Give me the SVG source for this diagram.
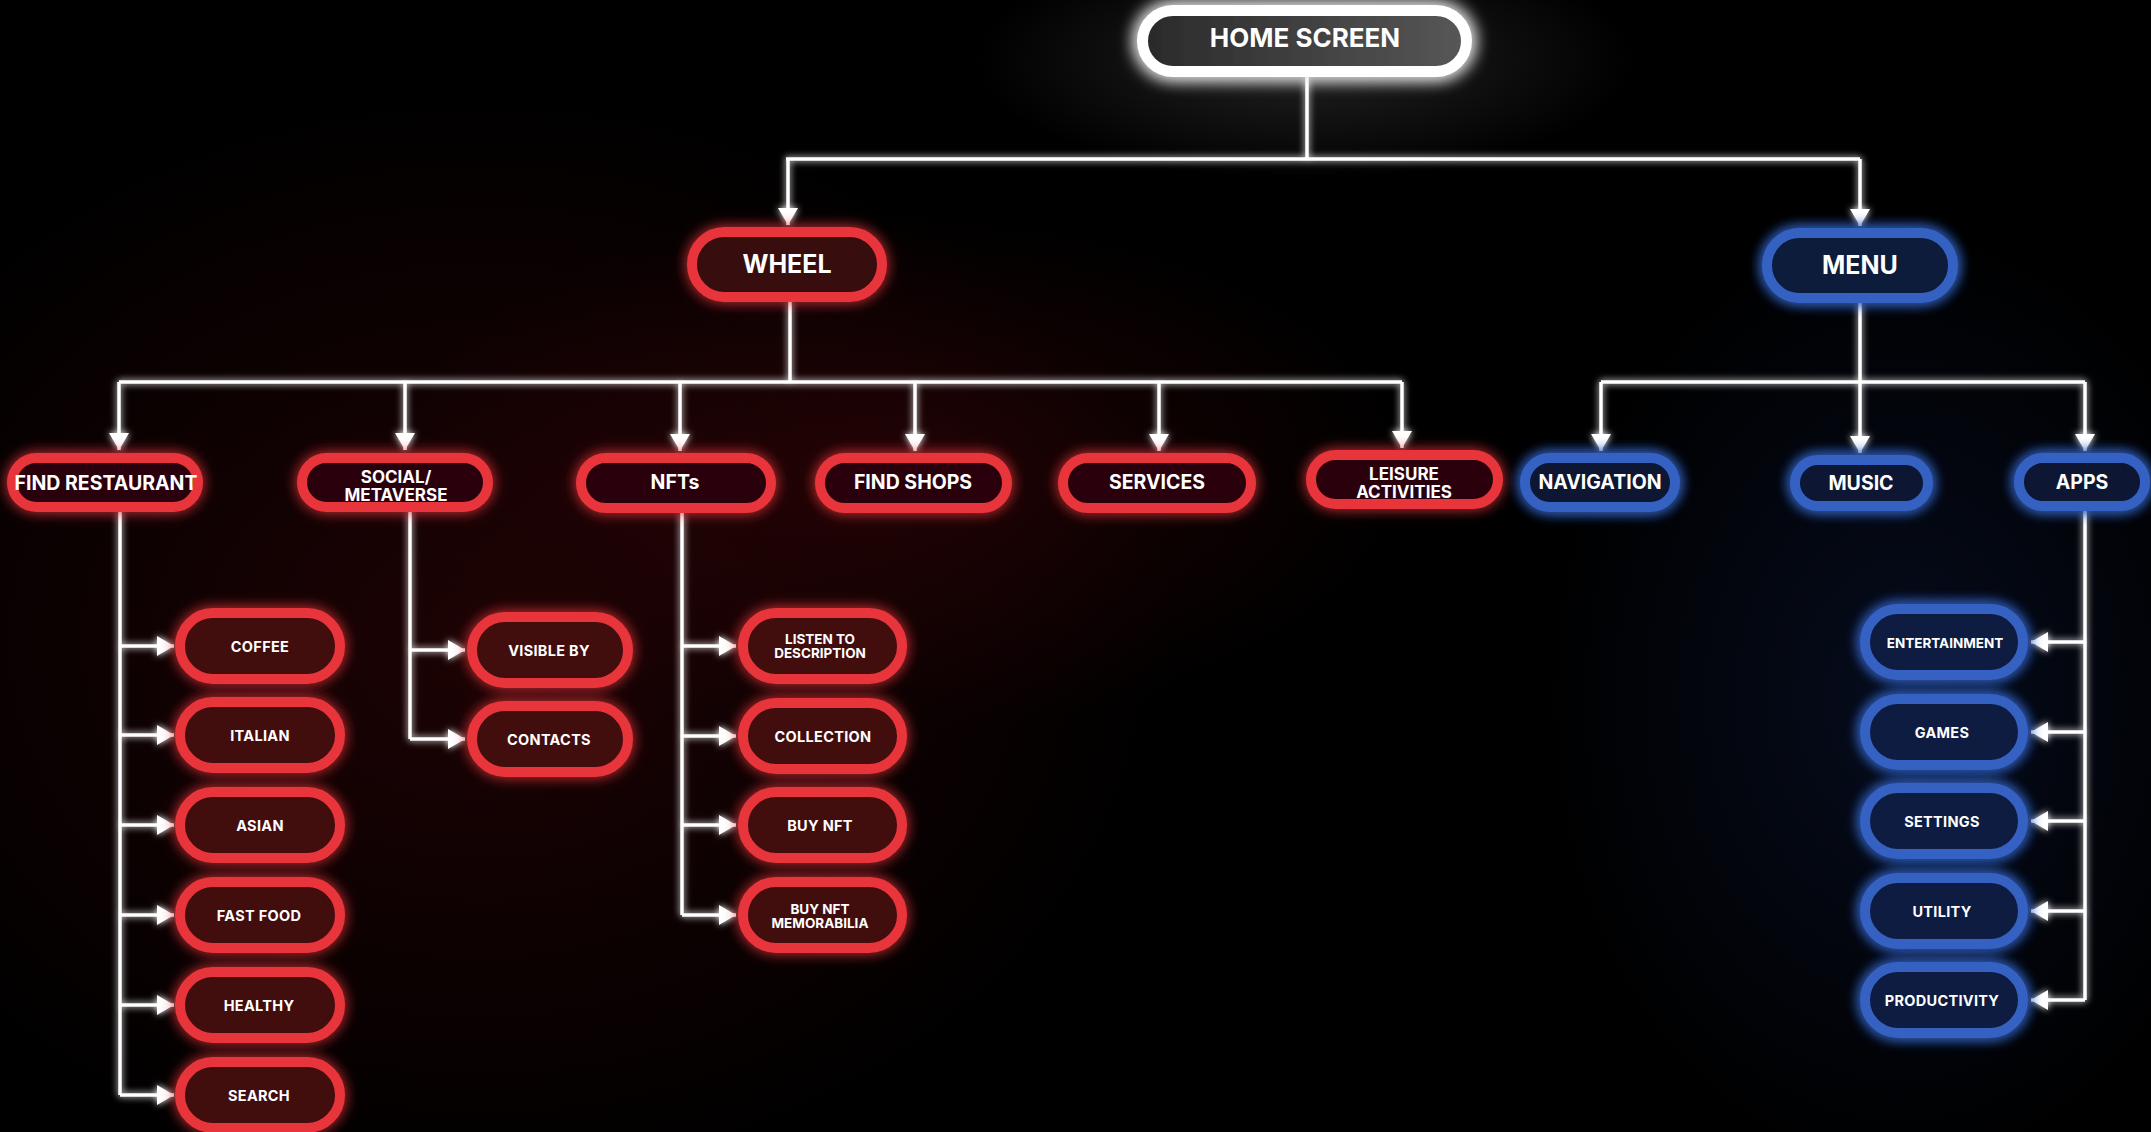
<svg xmlns="http://www.w3.org/2000/svg" width="2151" height="1132" viewBox="0 0 2151 1132">
  <defs>
    <style>
      .txt { font-family: Inter, "Open Sans", "Liberation Sans", sans-serif; font-weight: 700; fill: #ffffff; text-anchor: middle; }
      .t-home { font-size: 26px; }
      .t-top { font-size: 25px; }
      .t-l2 { font-size: 19.5px; }
      .t-l2b { font-size: 17px; }
      .t-leaf { font-size: 14.5px; letter-spacing: 0.3px; }
      .t-leafb { font-size: 13.5px; }
      .home { fill: url(#homeFill); stroke: #ffffff; stroke-width: 11; }
      .red-top { fill: #38070a; stroke: #e8353b; stroke-width: 10; }
      .red-l2 { fill: #2a0507; stroke: #e8353b; stroke-width: 10; }
      .red-leaf { fill: #420a0e; stroke: #e8353b; stroke-width: 10; }
      .blue-top { fill: #0d1a3a; stroke: #3462c2; stroke-width: 10; }
      .blue-l2 { fill: #0b1633; stroke: #3462c2; stroke-width: 10; }
      .blue-leaf { fill: #0e1c40; stroke: #3462c2; stroke-width: 10; }
      .wire { fill: none; stroke: #ffffff; stroke-width: 3.5; }
      .arrow { fill: none; stroke: #ffffff; stroke-width: 3.5; marker-end: url(#head); }
    </style>
    <linearGradient id="homeFill" x1="0" y1="0" x2="1" y2="0">
      <stop offset="0" stop-color="#2a2a2a"/>
      <stop offset="1" stop-color="#575757"/>
    </linearGradient>
    <radialGradient id="hazeRed" cx="0.5" cy="0.5" r="0.5">
      <stop offset="0" stop-color="#3a0508" stop-opacity="0.5"/>
      <stop offset="1" stop-color="#3a0508" stop-opacity="0"/>
    </radialGradient>
    <radialGradient id="hazeBlue" cx="0.5" cy="0.5" r="0.5">
      <stop offset="0" stop-color="#0a1430" stop-opacity="0.6"/>
      <stop offset="1" stop-color="#0a1430" stop-opacity="0"/>
    </radialGradient>
    <radialGradient id="hazeWhite" cx="0.5" cy="0.5" r="0.5">
      <stop offset="0" stop-color="#3a3a3a" stop-opacity="0.6"/>
      <stop offset="1" stop-color="#3a3a3a" stop-opacity="0"/>
    </radialGradient>
    <filter id="glowRed" x="-30%" y="-60%" width="160%" height="220%">
      <feGaussianBlur in="SourceGraphic" stdDeviation="7" result="b"/>
      <feMerge><feMergeNode in="b"/><feMergeNode in="SourceGraphic"/></feMerge>
    </filter>
    <filter id="glowBlue" x="-30%" y="-60%" width="160%" height="220%">
      <feGaussianBlur in="SourceGraphic" stdDeviation="7" result="b"/>
      <feMerge><feMergeNode in="b"/><feMergeNode in="b"/><feMergeNode in="SourceGraphic"/></feMerge>
    </filter>
    <filter id="glowWhite" x="-20%" y="-60%" width="140%" height="220%">
      <feGaussianBlur in="SourceGraphic" stdDeviation="9" result="b"/>
      <feMerge><feMergeNode in="b"/><feMergeNode in="b"/><feMergeNode in="SourceGraphic"/></feMerge>
    </filter>
    <filter id="glowWire" x="-5%" y="-5%" width="110%" height="110%">
      <feGaussianBlur in="SourceGraphic" stdDeviation="3.5" result="b"/>
      <feMerge><feMergeNode in="b"/><feMergeNode in="SourceGraphic"/></feMerge>
    </filter>
    <marker id="head" markerUnits="userSpaceOnUse" markerWidth="20" markerHeight="22" refX="17" refY="11" orient="auto">
      <path d="M0,1 L17,11 L0,21 Z" fill="#ffffff"/>
    </marker>
  </defs>

  <!-- backdrop -->
  <rect x="0" y="0" width="2151" height="1132" fill="#000000"/>
  <ellipse cx="480" cy="640" rx="700" ry="560" fill="url(#hazeRed)"/>
  <ellipse cx="900" cy="470" rx="520" ry="260" fill="url(#hazeRed)"/>
  <ellipse cx="1900" cy="700" rx="360" ry="480" fill="url(#hazeBlue)"/>
  <ellipse cx="1305" cy="60" rx="330" ry="120" fill="url(#hazeWhite)"/>

  <!-- connectors -->
  <g id="connectors" filter="url(#glowWire)">
    <path class="wire" d="M1307,77 V159 M786,159 H1860 M790,302 V382 M119,382 H1402 M1860,303 V382 M1601,382 H2085"/>
    <path class="arrow" d="M788,159 V225"/>
    <path class="arrow" d="M1860,159 V226"/>
    <path class="arrow" d="M119,382 V450"/>
    <path class="arrow" d="M405,382 V450"/>
    <path class="arrow" d="M680,382 V451"/>
    <path class="arrow" d="M915,382 V451"/>
    <path class="arrow" d="M1159,382 V451"/>
    <path class="arrow" d="M1402,382 V448"/>
    <path class="arrow" d="M1601,382 V451"/>
    <path class="arrow" d="M1860,382 V453"/>
    <path class="arrow" d="M2085,382 V451"/>
    <!-- find restaurant branch -->
    <path class="wire" d="M120,512 V1095"/>
    <path class="arrow" d="M120,646 H174"/>
    <path class="arrow" d="M120,735 H174"/>
    <path class="arrow" d="M120,825 H174"/>
    <path class="arrow" d="M120,915 H174"/>
    <path class="arrow" d="M120,1005 H174"/>
    <path class="arrow" d="M120,1095 H174"/>
    <!-- social branch -->
    <path class="wire" d="M410,512 V739"/>
    <path class="arrow" d="M410,650 H465"/>
    <path class="arrow" d="M410,739 H465"/>
    <!-- nft branch -->
    <path class="wire" d="M682,513 V915"/>
    <path class="arrow" d="M682,646 H736"/>
    <path class="arrow" d="M682,736 H736"/>
    <path class="arrow" d="M682,825 H736"/>
    <path class="arrow" d="M682,915 H736"/>
    <!-- apps branch -->
    <path class="wire" d="M2085,510 V1000"/>
    <path class="arrow" d="M2085,642 H2031"/>
    <path class="arrow" d="M2085,732 H2031"/>
    <path class="arrow" d="M2085,821 H2031"/>
    <path class="arrow" d="M2085,911 H2031"/>
    <path class="arrow" d="M2085,1000 H2031"/>
  </g>

  <!-- root -->
  <g id="home-screen">
    <rect class="home" x="1142.5" y="10.5" width="324" height="61" rx="30.5" filter="url(#glowWhite)"/>
    <text class="txt t-home" x="1305" y="47">HOME SCREEN</text>
  </g>

  <!-- main branches -->
  <g id="wheel">
    <rect class="red-top" x="692" y="232" width="190" height="65" rx="32.5" filter="url(#glowRed)"/>
    <text class="txt t-top" x="787" y="273">WHEEL</text>
  </g>
  <g id="menu">
    <rect class="blue-top" x="1767" y="233" width="186" height="65" rx="32.5" filter="url(#glowBlue)"/>
    <text class="txt t-top" x="1860" y="274">MENU</text>
  </g>

  <!-- wheel categories -->
  <g id="find-restaurant">
    <rect class="red-l2" x="12" y="458" width="186" height="49" rx="24.5" filter="url(#glowRed)"/>
    <text class="txt t-l2" x="106" y="490">FIND RESTAURANT</text>
  </g>
  <g id="social-metaverse">
    <rect class="red-l2" x="302" y="458" width="186" height="49" rx="24.5" filter="url(#glowRed)"/>
    <text class="txt t-l2b" x="396" y="483">SOCIAL/</text>
    <text class="txt t-l2b" x="396" y="501">METAVERSE</text>
  </g>
  <g id="nfts">
    <rect class="red-l2" x="581" y="458" width="190" height="50" rx="25" filter="url(#glowRed)"/>
    <text class="txt t-l2" x="675" y="489">NFTs</text>
  </g>
  <g id="find-shops">
    <rect class="red-l2" x="820" y="458" width="187" height="50" rx="25" filter="url(#glowRed)"/>
    <text class="txt t-l2" x="913" y="489">FIND SHOPS</text>
  </g>
  <g id="services">
    <rect class="red-l2" x="1063" y="458" width="188" height="50" rx="25" filter="url(#glowRed)"/>
    <text class="txt t-l2" x="1157" y="489">SERVICES</text>
  </g>
  <g id="leisure-activities">
    <rect class="red-l2" x="1311" y="455" width="187" height="49" rx="24.5" filter="url(#glowRed)"/>
    <text class="txt t-l2b" x="1404" y="480">LEISURE</text>
    <text class="txt t-l2b" x="1404" y="498">ACTIVITIES</text>
  </g>

  <!-- menu categories -->
  <g id="navigation">
    <rect class="blue-l2" x="1525" y="458" width="150" height="49" rx="24.5" filter="url(#glowBlue)"/>
    <text class="txt t-l2" x="1600" y="489">NAVIGATION</text>
  </g>
  <g id="music">
    <rect class="blue-l2" x="1795" y="460" width="133" height="46" rx="23" filter="url(#glowBlue)"/>
    <text class="txt t-l2" x="1861" y="490">MUSIC</text>
  </g>
  <g id="apps">
    <rect class="blue-l2" x="2019" y="458" width="126" height="48" rx="24" filter="url(#glowBlue)"/>
    <text class="txt t-l2" x="2082" y="489">APPS</text>
  </g>

  <!-- find restaurant items -->
  <g id="coffee">
    <rect class="red-leaf" x="180" y="613" width="160" height="66" rx="33" filter="url(#glowRed)"/>
    <text class="txt t-leaf" x="260" y="651.5">COFFEE</text>
  </g>
  <g id="italian">
    <rect class="red-leaf" x="180" y="702" width="160" height="66" rx="33" filter="url(#glowRed)"/>
    <text class="txt t-leaf" x="260" y="740.5">ITALIAN</text>
  </g>
  <g id="asian">
    <rect class="red-leaf" x="180" y="792" width="160" height="66" rx="33" filter="url(#glowRed)"/>
    <text class="txt t-leaf" x="260" y="830.5">ASIAN</text>
  </g>
  <g id="fast-food">
    <rect class="red-leaf" x="180" y="882" width="160" height="66" rx="33" filter="url(#glowRed)"/>
    <text class="txt t-leaf" x="259" y="920.5">FAST FOOD</text>
  </g>
  <g id="healthy">
    <rect class="red-leaf" x="180" y="972" width="160" height="66" rx="33" filter="url(#glowRed)"/>
    <text class="txt t-leaf" x="259" y="1010.5">HEALTHY</text>
  </g>
  <g id="search">
    <rect class="red-leaf" x="180" y="1062" width="160" height="66" rx="33" filter="url(#glowRed)"/>
    <text class="txt t-leaf" x="259" y="1100.5">SEARCH</text>
  </g>

  <!-- social items -->
  <g id="visible-by">
    <rect class="red-leaf" x="472" y="617" width="156" height="66" rx="33" filter="url(#glowRed)"/>
    <text class="txt t-leaf" x="549" y="655.5">VISIBLE BY</text>
  </g>
  <g id="contacts">
    <rect class="red-leaf" x="472" y="706" width="156" height="66" rx="33" filter="url(#glowRed)"/>
    <text class="txt t-leaf" x="549" y="744.5">CONTACTS</text>
  </g>

  <!-- nft items -->
  <g id="listen-to-description">
    <rect class="red-leaf" x="743" y="613" width="159" height="66" rx="33" filter="url(#glowRed)"/>
    <text class="txt t-leafb" x="820" y="644">LISTEN TO</text>
    <text class="txt t-leafb" x="820" y="658">DESCRIPTION</text>
  </g>
  <g id="collection">
    <rect class="red-leaf" x="743" y="703" width="159" height="66" rx="33" filter="url(#glowRed)"/>
    <text class="txt t-leaf" x="823" y="741.5">COLLECTION</text>
  </g>
  <g id="buy-nft">
    <rect class="red-leaf" x="743" y="792" width="159" height="66" rx="33" filter="url(#glowRed)"/>
    <text class="txt t-leaf" x="820" y="830.5">BUY NFT</text>
  </g>
  <g id="buy-nft-memorabilia">
    <rect class="red-leaf" x="743" y="882" width="159" height="66" rx="33" filter="url(#glowRed)"/>
    <text class="txt t-leafb" x="820" y="914">BUY NFT</text>
    <text class="txt t-leafb" x="820" y="928">MEMORABILIA</text>
  </g>

  <!-- apps items -->
  <g id="entertainment">
    <rect class="blue-leaf" x="1865" y="609" width="158" height="66" rx="33" filter="url(#glowBlue)"/>
    <text class="txt t-leafb" x="1945" y="647.5">ENTERTAINMENT</text>
  </g>
  <g id="games">
    <rect class="blue-leaf" x="1865" y="699" width="158" height="66" rx="33" filter="url(#glowBlue)"/>
    <text class="txt t-leaf" x="1942" y="737.5">GAMES</text>
  </g>
  <g id="settings">
    <rect class="blue-leaf" x="1865" y="788" width="158" height="66" rx="33" filter="url(#glowBlue)"/>
    <text class="txt t-leaf" x="1942" y="826.5">SETTINGS</text>
  </g>
  <g id="utility">
    <rect class="blue-leaf" x="1865" y="878" width="158" height="66" rx="33" filter="url(#glowBlue)"/>
    <text class="txt t-leaf" x="1942" y="916.5">UTILITY</text>
  </g>
  <g id="productivity">
    <rect class="blue-leaf" x="1865" y="967" width="158" height="66" rx="33" filter="url(#glowBlue)"/>
    <text class="txt t-leaf" x="1942" y="1005.5">PRODUCTIVITY</text>
  </g>
</svg>
